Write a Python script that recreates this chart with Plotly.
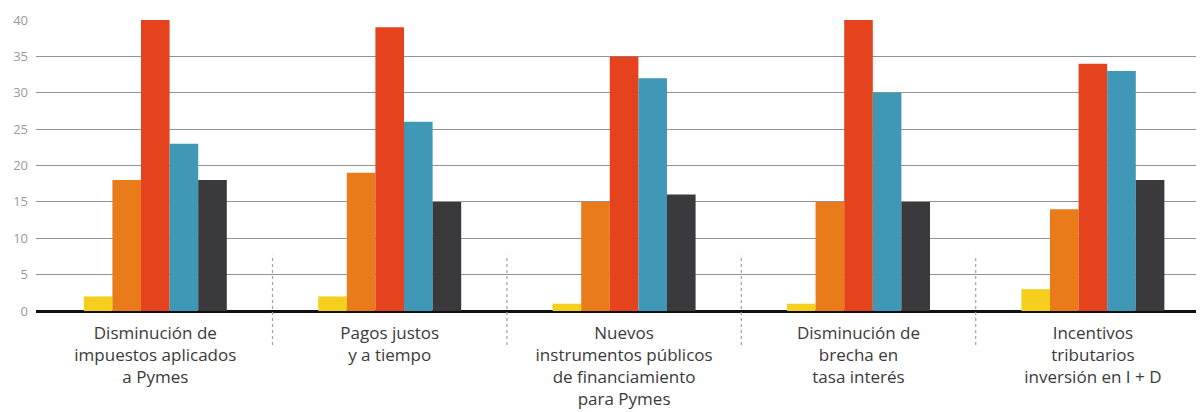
import plotly.graph_objects as go

categories = [
    "Disminución de<br>impuestos aplicados<br>a Pymes",
    "Pagos justos<br>y a tiempo",
    "Nuevos<br>instrumentos públicos<br>de financiamiento<br>para Pymes",
    "Disminución de<br>brecha en<br>tasa interés",
    "Incentivos<br>tributarios<br>inversión en I + D",
]
s_yellow = [2, 2, 1, 1, 3]
s_orange = [18, 19, 15, 15, 14]
s_red = [40, 39, 35, 40, 34]
s_blue = [23, 26, 32, 30, 33]
s_dark = [18, 15, 16, 15, 18]
y_ticks = [0, 5, 10, 15, 20, 25, 30, 35, 40]

series = [s_yellow, s_orange, s_red, s_blue, s_dark]
colors = ["#F6CE1E", "#E97B1B", "#E5421E", "#3E98B6", "#3A3A3C"]
xpos = list(range(len(categories)))

fig = go.Figure()
for vals, col in zip(series, colors):
    fig.add_trace(go.Bar(x=xpos, y=vals, marker=dict(color=col, line=dict(width=0)),
                         showlegend=False))

shapes = []
for i in range(len(categories) - 1):
    shapes.append(dict(type="line", xref="x", yref="paper", x0=i + 0.5, x1=i + 0.5,
                       y0=-0.117, y1=0.193,
                       line=dict(color="#A0A0A0", width=1.2, dash="dot"), layer="above"))

fig.update_layout(
    width=1196, height=404,
    margin=dict(l=28, r=0, t=12, b=101, autoexpand=False),
    paper_bgcolor="white", plot_bgcolor="white",
    barmode="group", bargap=0.39, bargroupgap=0,
    font=dict(family="Open Sans", color="#3A3A3A"),
    shapes=shapes,
    xaxis=dict(
        tickmode="array", tickvals=xpos, ticktext=categories,
        range=[-0.509, 4.474], showgrid=False, zeroline=False, automargin=False,
        showline=False, ticks="", tickfont=dict(size=17, color="#3A3A3A"),
        ticklabelstandoff=10,
    ),
    yaxis=dict(
        range=[0, 40], tickvals=y_ticks, showgrid=True, gridcolor="#919191", gridwidth=1.3,
        zeroline=True, zerolinecolor="#111111", zerolinewidth=2.5, automargin=False,
        showline=False, ticks="", tickfont=dict(size=13, color="#9A9A9A"),
        ticklabelstandoff=7,
    ),
)

fig.write_html("out.html")
